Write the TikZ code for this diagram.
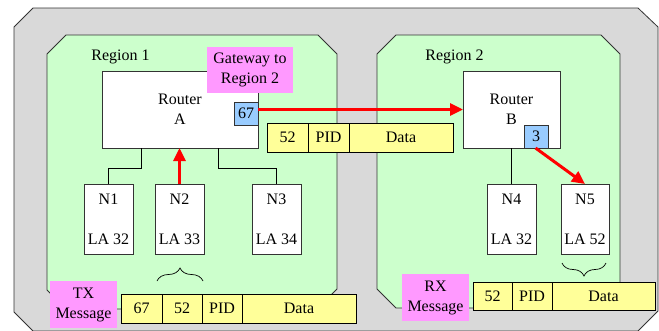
\documentclass[tikz,border=0pt]{standalone}
\usepackage{fontspec}
\setmainfont{Liberation Serif}
\usetikzlibrary{arrows.meta,decorations.pathreplacing,shadows}

\definecolor{backgray}{HTML}{D9D9D9}
\definecolor{regiongreen}{HTML}{CCFFCC}
\definecolor{notepink}{HTML}{FF99FF}
\definecolor{cellyellow}{HTML}{FFFF99}
\definecolor{portblue}{HTML}{99CCFF}
\definecolor{edge}{HTML}{333333}

\begin{document}
\begin{tikzpicture}[x=1pt,y=-1pt,
  every node/.style={font=\fontsize{16}{20}\selectfont, inner sep=0pt, outer sep=0pt, align=center},
  region/.style={draw=edge, line width=0.8pt},
  box/.style={draw=edge, line width=0.8pt, fill=white},
  port/.style={draw=edge, line width=0.8pt, fill=portblue, minimum width=24pt, minimum height=23pt},
  leaf/.style={box, minimum width=49pt, minimum height=70pt},
  note/.style={fill=notepink},
  cell/.style={draw=black, line width=0.8pt, fill=cellyellow,
    drop shadow={shadow xshift=1pt, shadow yshift=-1pt, fill=black!40, opacity=1}},
  wire/.style={draw=black, line width=0.8pt},
  flow/.style={draw=red, line width=3pt, -{Triangle[length=13pt,width=12pt]}},
  curly/.style={draw=black, line width=0.7pt, decorate, decoration={brace, amplitude=13pt}}]

\useasboundingbox (0,0) rectangle (659,330);

% network area and the two regions
\path[region, fill=backgray] (14,27) -- (33,8) -- (638,8) -- (658,27) -- (658,311)
  -- (638,331) -- (33,331) -- (14,312) -- cycle;
\path[region, fill=regiongreen] (47,54) -- (66,35) -- (318,35) -- (337,54) -- (337,289)
  -- (317,309) -- (66,309) -- (47,290) -- cycle;
\path[region, fill=regiongreen] (377,54) -- (396,35) -- (601,35) -- (620,54) -- (620,289)
  -- (601,308) -- (396,308) -- (377,289) -- cycle;

\node[anchor=base] (r1) at (120.5,60) {Region 1};
\node[anchor=base] (r2) at (454.5,60) {Region 2};

% routers and their ports
\node[box, minimum width=156pt, minimum height=77pt] (ra) at (180,109.5) {Router\\A};
\node[port] (p67) at (246,113.5) {67};
\node[note, minimum width=86pt, minimum height=46pt] (gw) at (250,70) {Gateway to\\Region 2};

\node[box, minimum width=97pt, minimum height=77pt] (rb) at (511.5,109.5) {Router\\B};
\node[port] (p3) at (536,136.5) {3};

% end nodes
\node[leaf] (n1) at (108.5,219) {N1\\[20pt]LA 32};
\node[leaf] (n2) at (179.5,219) {N2\\[20pt]LA 33};
\node[leaf] (n3) at (276.5,219) {N3\\[20pt]LA 34};
\node[leaf] (n4) at (511.5,219) {N4\\[20pt]LA 32};
\node[leaf, minimum width=48pt] (n5) at (585,219) {N5\\[20pt]LA 52};

% wiring inside the regions
\draw[wire] ([xshift=-39pt]ra.south) -- ++(0,20) -| (n1.north);
\draw[wire] ([xshift=38pt]ra.south) -- ++(0,20) -| (n3.north);
\draw[wire] (rb.south) -- (n4.north);

% packet in transit
\node[cell, minimum width=41pt, minimum height=29pt] (m1) at (287.5,137.5) {52};
\node[cell, minimum width=41pt, minimum height=29pt] (m2) at (328.5,137.5) {PID};
\node[cell, minimum width=104pt, minimum height=29pt] (m3) at (401,137.5) {Data};

% transmitted message
\node[note, minimum width=67pt, minimum height=47pt] (tx) at (83.5,304.5) {TX\\Message};
\node[cell, minimum width=41pt, minimum height=29pt] (t1) at (141.5,308.5) {67};
\node[cell, minimum width=40pt, minimum height=29pt] (t2) at (182,308.5) {52};
\node[cell, minimum width=40pt, minimum height=29pt] (t3) at (222,308.5) {PID};
\node[cell, minimum width=114pt, minimum height=29pt] (t4) at (299,308.5) {Data};

% received message
\node[note, minimum width=67pt, minimum height=47pt] (rx) at (435.5,297.5) {RX\\Message};
\node[cell, minimum width=39pt, minimum height=28pt] (x1) at (492.5,296) {52};
\node[cell, minimum width=40pt, minimum height=28pt] (x2) at (532,296) {PID};
\node[cell, minimum width=103pt, minimum height=28pt] (x3) at (603.5,296) {Data};

% packet route
\draw[flow] (n2.north) -- (n2.north |- ra.south);
\draw[flow] (p67.east |- rb.west) -- (rb.west);
\draw[flow] ([xshift=-0.5pt]p3.south) -- (n5.north);

% address braces
\coordinate (b1l) at (157,281);
\coordinate (b1r) at (203,281);
\draw[curly] (b1l) -- (b1r);
\coordinate (b2l) at (562,263);
\coordinate (b2r) at (606,263);
\draw[curly] (b2r) -- (b2l);

\end{tikzpicture}
\end{document}
